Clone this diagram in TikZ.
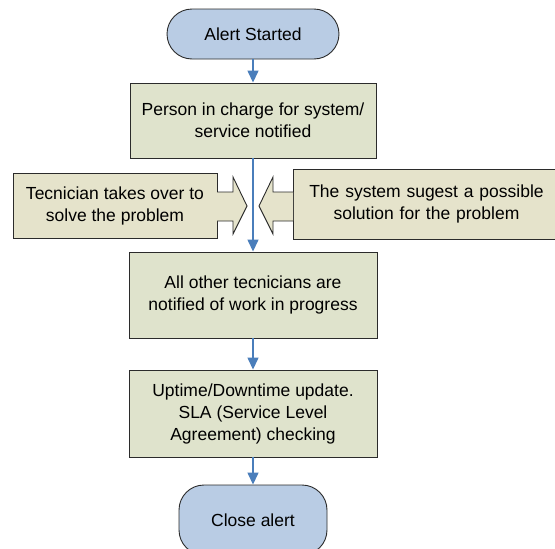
\documentclass[tikz,border=0pt]{standalone}
\usepackage{fontspec}
\setmainfont{Liberation Sans}
\usetikzlibrary{arrows.meta}
\definecolor{termfill}{HTML}{B9CCE4}
\definecolor{boxfill}{HTML}{DFE3CC}
\definecolor{sidefill}{HTML}{E5E3CB}
\definecolor{flowblue}{HTML}{4A7EBB}
\definecolor{edgegrey}{HTML}{2B2B2B}
\tikzset{
  term/.style={draw=edgegrey, line width=0.9pt, fill=termfill, rounded corners=25pt,
    inner sep=0pt, font=\fontsize{17.5}{22}\selectfont, align=center},
  stepbox/.style={draw=edgegrey, line width=0.9pt, fill=boxfill, inner sep=0pt,
    font=\fontsize{17.5}{22}\selectfont, align=center},
  sidebox/.style={draw=edgegrey, line width=0.9pt, fill=sidefill, inner sep=0pt,
    font=\fontsize{17.5}{22}\selectfont, align=center},
  blockarrow/.style={draw=edgegrey, line width=0.9pt, fill=sidefill},
  flow/.style={draw=flowblue, line width=1.4pt, -{Triangle[width=11pt,length=12pt]}}
}
\begin{document}
\begin{tikzpicture}[x=1pt,y=-1pt]
\useasboundingbox (0,0) rectangle (555,549);
\clip (0,0) rectangle (555,549);
\node[term, minimum width=172pt, minimum height=50pt] (start) at (253,34) {Alert Started};
\node[stepbox, minimum width=246pt, minimum height=75pt] (b1) at (253,120.5) {Person in charge for system/\\service notified};
\node[sidebox, minimum width=204pt, minimum height=65pt] (left) at (115,205.5) {Tecnician takes over to\\solve the problem};
\node[sidebox, minimum width=267pt, minimum height=70pt, text width=250pt] (right) at (426.5,204) {The system sugest a possible\\solution for the problem};
\node[stepbox, minimum width=248pt, minimum height=86pt] (b2) at (253,295) {All other tecnicians are\\notified of work in progress};
\node[stepbox, minimum width=248pt, minimum height=87pt] (b3) at (253,413.5) {Uptime/Downtime update.\\SLA (Service Level\\Agreement) checking};
\node[term, minimum width=148pt, minimum height=70pt] (end) at (253,520) {Close alert};

\draw[blockarrow] (217,192) -- (233,192) -- (233,177) -- (247,206) -- (233,234) -- (233,221) -- (217,221);
\draw[blockarrow] (293,192) -- (273,192) -- (273,177) -- (259,206) -- (273,234) -- (273,221) -- (293,221);

\draw[flow] (start.south) -- (b1.north);
\draw[flow] (b1.south) -- (b2.north);
\draw[flow] (b2.south) -- (b3.north);
\draw[flow] (b3.south) -- (end.north);
\end{tikzpicture}
\end{document}
